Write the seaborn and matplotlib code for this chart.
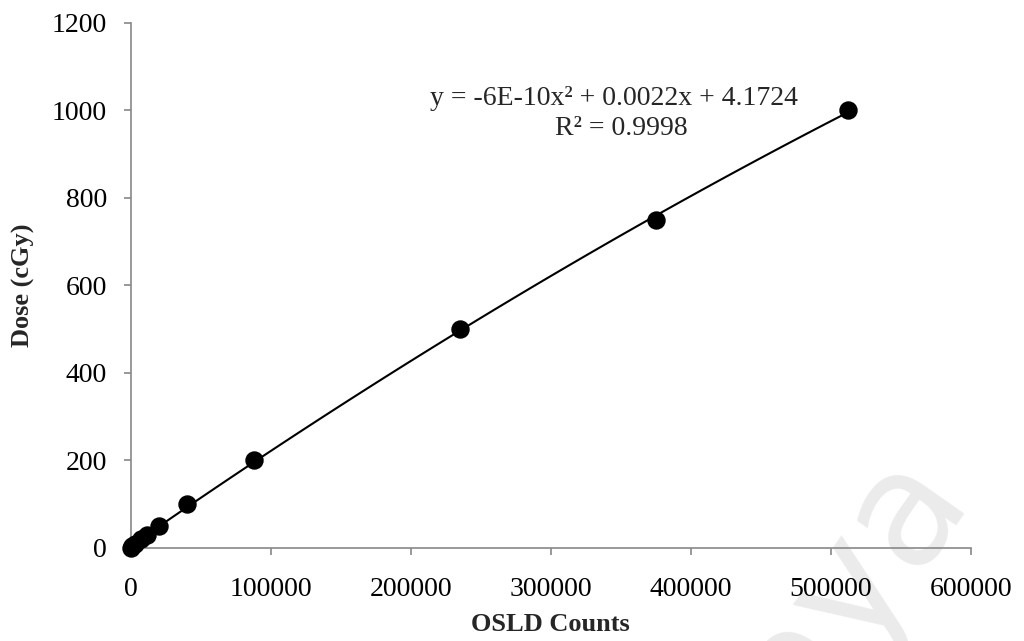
import numpy as np
import pandas as pd
import matplotlib.pyplot as plt
import seaborn as sns

sns.set_theme(style='white')
plt.rcParams['font.family'] = ['Liberation Serif', 'DejaVu Serif']

# OSLD calibration points
counts = [300, 1100, 3000, 7200, 11600, 20500, 40200, 88000, 235200, 375200, 512600]
dose = [0, 5, 10, 20, 30, 50, 100, 200, 500, 750, 1000]
equation = 'y = -6E-10x² + 0.0022x + 4.1724'
r_squared = 'R² = 0.9998'

df = pd.DataFrame({'counts': counts, 'dose': dose})

fig = plt.figure(figsize=(10.24, 6.41), dpi=100)
ax = fig.add_axes([0.1276, 0.1451, 0.8204, 0.8195])

# polynomial (order 2) trendline, like Excel
sns.regplot(x='counts', y='dose', data=df, order=2, ci=None, ax=ax,
            color='black',
            scatter_kws={'s': 150, 'clip_on': False, 'zorder': 4, 'alpha': 1},
            line_kws={'linewidth': 1.5, 'zorder': 3})

ax.set_xlim(0, 600000)
ax.set_ylim(0, 1200)
ax.set_xticks(np.arange(0, 600001, 100000))
ax.set_yticks(np.arange(0, 1201, 200))
ax.ticklabel_format(style='plain', useOffset=False)

ax.set_xlabel('OSLD Counts', fontsize=19, fontweight='bold', labelpad=8)
ax.set_ylabel('Dose (cGy)', fontsize=19, fontweight='bold', labelpad=12)
ax.tick_params(axis='both', labelsize=20, colors='#888888', labelcolor='black',
               direction='out', length=5, width=1.2, bottom=True, left=True)
ax.tick_params(axis='x', pad=16)
ax.tick_params(axis='y', pad=12)

for side in ['top', 'right']:
    ax.spines[side].set_visible(False)
for side in ['left', 'bottom']:
    ax.spines[side].set_color('#888888')
    ax.spines[side].set_linewidth(1.2)

ax.text(213800, 1026, equation, fontsize=20, ha='left', va='center')
ax.text(303000, 958, r_squared, fontsize=20, ha='left', va='center')

# faint watermark
fig.text(0.83, 0.085, 'aya', fontsize=115, color='#ebebeb', rotation=55,
         ha='center', va='center', family='DejaVu Sans', zorder=-1)
ax.patch.set_alpha(0)

plt.savefig('out.png', dpi=100)
